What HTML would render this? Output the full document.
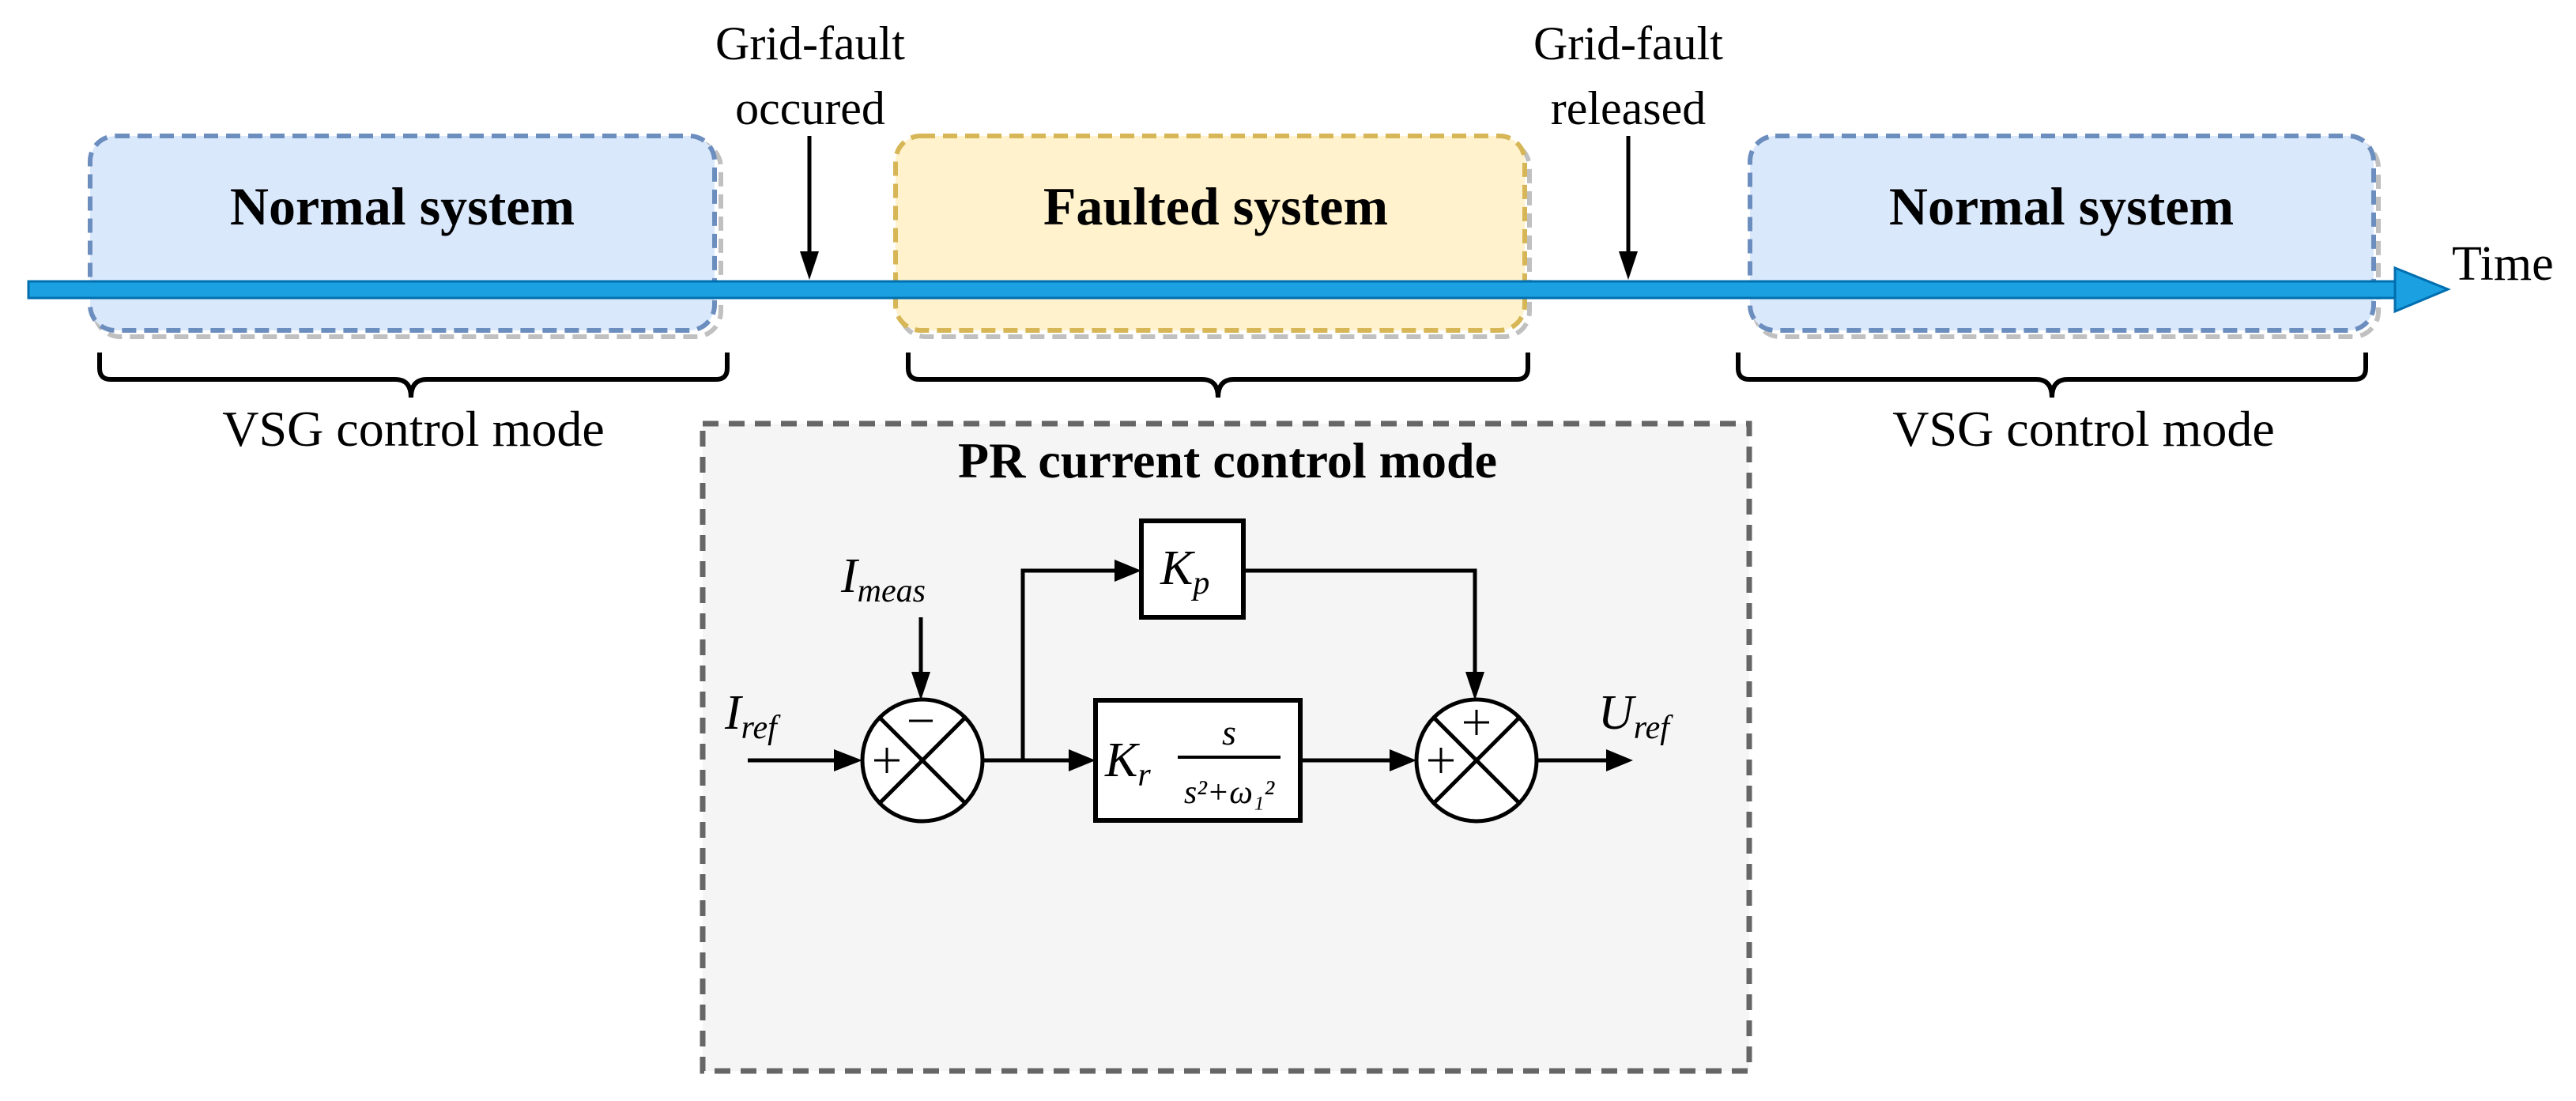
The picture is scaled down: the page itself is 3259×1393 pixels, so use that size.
<!DOCTYPE html>
<html><head><meta charset="utf-8"><style>html,body{margin:0;padding:0;background:#fff}svg{display:block}</style></head><body>
<svg width="3259" height="1393" viewBox="0 0 3259 1393" xmlns="http://www.w3.org/2000/svg" font-family="Liberation Serif, serif">
<g fill="none" stroke="#c0c0c0" stroke-width="6" stroke-dasharray="18 10">
<rect x="120" y="180" width="792" height="246" rx="32"/>
<rect x="1139" y="180" width="796" height="246" rx="32"/>
<rect x="2220" y="180" width="789" height="246" rx="32"/>
</g>
<g stroke-width="6" stroke-dasharray="18 10">
<rect x="114" y="172" width="790" height="246" rx="32" fill="#dae8fc" stroke="#6c8ebf"/>
<rect x="1133" y="172" width="796" height="246" rx="32" fill="#fff2cc" stroke="#d6b656"/>
<rect x="2214" y="172" width="789" height="246" rx="32" fill="#dae8fc" stroke="#6c8ebf"/>
</g>
<rect x="36" y="356" width="2996" height="21" fill="#1ba1e2" stroke="#006eaf" stroke-width="3"/>
<polygon points="3030,339 3097,366 3030,394" fill="#1ba1e2" stroke="#006eaf" stroke-width="3"/>
<text x="3102" y="354" font-size="62">Time</text>
<g font-size="68" font-weight="bold" text-anchor="middle">
<text x="509" y="284">Normal system</text>
<text x="1538" y="284">Faulted system</text>
<text x="2608" y="284">Normal system</text>
</g>
<g stroke="#000" stroke-width="5">
<line x1="1024" y1="172" x2="1024" y2="335"/>
<line x1="2060" y1="172" x2="2060" y2="335"/>
</g>
<polygon points="1012,318 1024,354 1036,318" fill="#000"/>
<polygon points="2048,318 2060,354 2072,318" fill="#000"/>
<g font-size="60" text-anchor="middle">
<text x="1025" y="75">Grid-fault</text>
<text x="1025" y="157">occured</text>
<text x="2060" y="75">Grid-fault</text>
<text x="2060" y="157">released</text>
</g>
<g fill="none" stroke="#000" stroke-width="6">
<path d="M126,446 V466 Q126,480 140,480 H500 Q520,480 520,503 Q520,480 540,480 H906 Q920,480 920,466 V446"/>
<path d="M1149,446 V466 Q1149,480 1163,480 H1521 Q1541,480 1541,503 Q1541,480 1561,480 H1919 Q1933,480 1933,466 V446"/>
<path d="M2199,446 V466 Q2199,480 2213,480 H2576 Q2596,480 2596,503 Q2596,480 2616,480 H2979 Q2993,480 2993,466 V446"/>
</g>
<g font-size="64" text-anchor="middle">
<text x="523" y="564">VSG control mode</text>
<text x="2636" y="564">VSG control mode</text>
</g>
<rect x="889" y="536" width="1324" height="819" fill="#f5f5f5" stroke="#666" stroke-width="7" stroke-dasharray="20 13"/>
<text x="1553" y="604" font-size="64" font-weight="bold" text-anchor="middle">PR current control mode</text>
<g stroke="#000" stroke-width="5" fill="none">
<line x1="946" y1="962" x2="1075" y2="962"/>
<line x1="1165" y1="781" x2="1165" y2="868"/>
<line x1="1243" y1="962" x2="1370" y2="962"/>
<polyline points="1294,962 1294,722 1428,722"/>
<polyline points="1573,722 1866,722 1866,868"/>
<line x1="1645" y1="962" x2="1776" y2="962"/>
<line x1="1944" y1="962" x2="2050" y2="962"/>
<ellipse cx="1167" cy="962" rx="76" ry="77" fill="#fff"/>
<ellipse cx="1868" cy="962" rx="76" ry="77" fill="#fff"/>
<line x1="1113" y1="908" x2="1221" y2="1016"/><line x1="1221" y1="908" x2="1113" y2="1016"/>
<line x1="1814" y1="908" x2="1922" y2="1016"/><line x1="1922" y1="908" x2="1814" y2="1016"/>
<rect x="1444" y="659" width="129" height="122" fill="#fff" stroke-width="6"/>
<rect x="1386" y="886" width="259" height="152" fill="#fff" stroke-width="6"/>
<line x1="1106" y1="962" x2="1138" y2="962" stroke-width="3"/>
<line x1="1122" y1="946" x2="1122" y2="978" stroke-width="3"/>
<line x1="1150" y1="912" x2="1180" y2="912" stroke-width="3"/>
<line x1="1807" y1="962" x2="1839" y2="962" stroke-width="3"/>
<line x1="1823" y1="946" x2="1823" y2="978" stroke-width="3"/>
<line x1="1852" y1="914" x2="1884" y2="914" stroke-width="3"/>
<line x1="1868" y1="898" x2="1868" y2="930" stroke-width="3"/>
<line x1="1490" y1="958" x2="1620" y2="958" stroke-width="4"/>
</g>
<g fill="#000">
<polygon points="1055,948 1091,962 1055,976"/>
<polygon points="1153,850 1165,886 1177,850"/>
<polygon points="1352,948 1386,962 1352,976"/>
<polygon points="1410,708 1444,722 1410,736"/>
<polygon points="1854,850 1866,886 1878,850"/>
<polygon points="1758,948 1792,962 1758,976"/>
<polygon points="2032,948 2066,962 2032,976"/>
</g>
<g font-style="italic" font-size="62">
<text x="917" y="922">I<tspan font-size="42" dy="12">ref</tspan></text>
<text x="1064" y="749">I<tspan font-size="42" dy="12">meas</tspan></text>
<text x="1468" y="739">K<tspan font-size="42" dy="12">p</tspan></text>
<text x="1398" y="982">K<tspan font-size="42" dy="12">r</tspan></text>
<text x="1555" y="942" font-size="46" text-anchor="middle">s</text>
<text x="1555" y="1016" font-size="42" text-anchor="middle">s²+ω₁²</text>
<text x="2022" y="922">U<tspan font-size="42" dy="12">ref</tspan></text>
</g>
</svg>
</body></html>
